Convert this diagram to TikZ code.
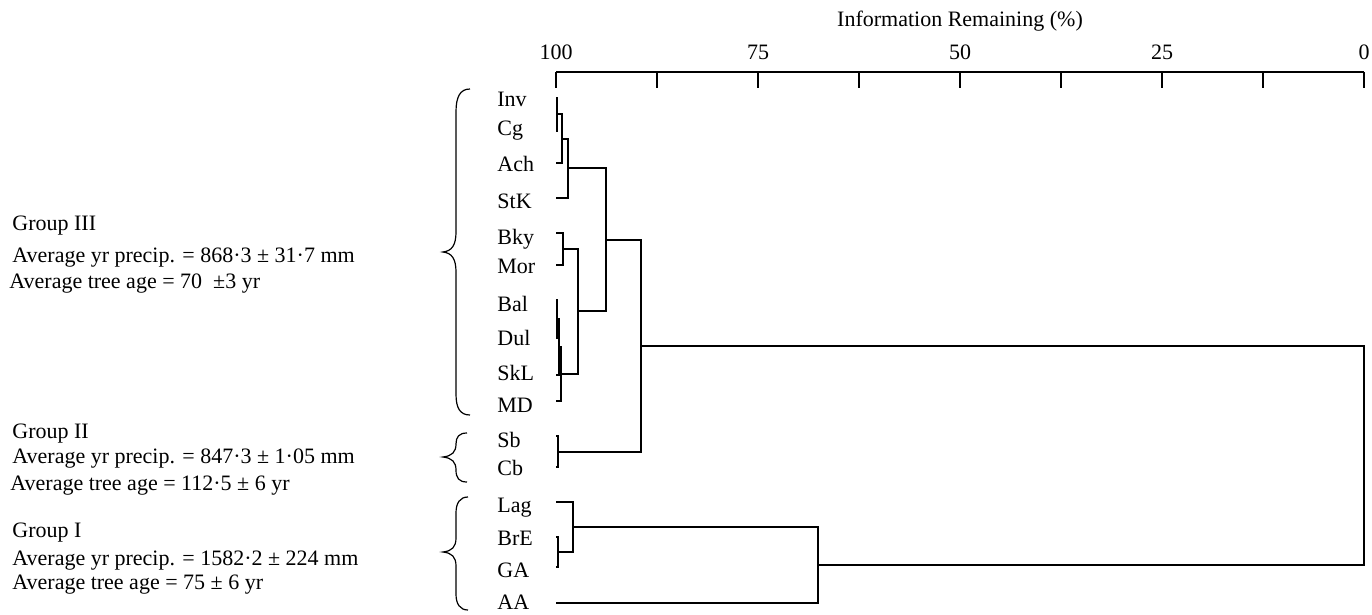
\documentclass[tikz,border=0pt]{standalone}
\usepackage{fontspec}
\setmainfont{Liberation Serif}
\usetikzlibrary{positioning}

\tikzset{
  leaf/.style={anchor=base west, inner sep=0pt, font=\fontsize{11}{13}\selectfont},
  note/.style={anchor=base west, inner sep=0pt, font=\fontsize{11}{13}\selectfont},
  ticklab/.style={anchor=base, inner sep=0pt, font=\fontsize{11}{13}\selectfont},
  tree/.style={line width=0.65pt},
  axisline/.style={line width=0.8pt},
  grpbrace/.style={line width=0.6pt}
}

\begin{document}
\begin{tikzpicture}[x=0.5pt, y=-0.5pt]
    \useasboundingbox (0,0) rectangle (1372,615);

    % Axis
    \draw[axisline] (556,72) coordinate (ax0) -- (1364,72) coordinate (ax1);
    \foreach \i in {0,...,8} {
        \draw[axisline] (556+101*\i,72) -- ++(0,16);
    }
    \foreach \i/\v in {0/100, 2/75, 4/50, 6/25, 8/0} {
        \node[ticklab] (t\v) at (556+101*\i,60) {\v};
    }
    \node[ticklab] (title) at (960,27) {Information Remaining (\%)};

    % Leaves: name / baseline / line height
    \foreach \n/\b/\y in {Inv/107/98, Cg/136/131, Ach/171/163, StK/208/198,
                          Bky/244/233, Mor/273/265, Bal/311/300, Dul/345/338,
                          SkL/380/375, MD/412/401, Sb/447/436, Cb/475/467,
                          Lag/512/502, BrE/545/537, GA/577/567, AA/609/603} {
        \node[leaf] (l\n) at (497,\b) {\n};
        \coordinate (\n) at (556,\y);
    }

    % Junctions
    \coordinate (m1) at (557,114);
    \coordinate (m2) at (562,139);
    \coordinate (m3) at (568,168);
    \coordinate (m4) at (563,249);
    \coordinate (m5) at (557,319);
    \coordinate (m6) at (559,347);
    \coordinate (m7) at (561,374);
    \coordinate (m8) at (578,311);
    \coordinate (m9) at (606,240);
    \coordinate (m10) at (558,452);
    \coordinate (m11) at (641,346);
    \coordinate (m12) at (558,552);
    \coordinate (m13) at (573,527);
    \coordinate (m14) at (818,565);
    \coordinate (m15) at (1364,455);

    % Dendrogram brackets
    \foreach \a/\m/\b in {Inv/m1/Cg, m1/m2/Ach, m2/m3/StK, Bky/m4/Mor,
                          Bal/m5/Dul, m5/m6/SkL, m6/m7/MD, m4/m8/m7,
                          m3/m9/m8, Sb/m10/Cb, m9/m11/m10, BrE/m12/GA,
                          Lag/m13/m12, m13/m14/AA, m11/m15/m14} {
        \draw[tree] (\a) -| (\m) |- (\b);
    }

    % Group braces
    \draw[grpbrace] (470,89) .. controls (460,89) and (456,97) .. (456,112)
        -- (456,232) .. controls (456,245) and (452,251) .. (443,252)
        .. controls (452,253) and (456,259) .. (456,272)
        -- (456,394) .. controls (456,408) and (460,415) .. (470,415);
    \draw[grpbrace] (467,433) .. controls (459,433) and (456,437) .. (456,444)
        .. controls (456,452) and (452,456) .. (443,457)
        .. controls (452,458) and (456,462) .. (456,470)
        .. controls (456,478) and (459,482) .. (467,482);
    \draw[grpbrace] (468,497) .. controls (460,497) and (456,503) .. (456,513)
        -- (456,538) .. controls (456,547) and (452,551) .. (443,552)
        .. controls (452,553) and (456,557) .. (456,566)
        -- (456,594) .. controls (456,604) and (460,610) .. (468,610);

    % Group notes
    \node[note] (g3) at (12,230) {Group III};
    \node[note] (g3p) at (12,263) {Average yr precip. = 868·3 ± 31·7 mm};
    \node[note] (g3a) at (9,288) {Average tree age = 70 \ ±3 yr};
    \node[note] (g2) at (12,438) {Group II};
    \node[note] (g2p) at (12,463) {Average yr precip. = 847·3 ± 1·05 mm};
    \node[note] (g2a) at (10,490) {Average tree age = 112·5 ± 6 yr};
    \node[note] (g1) at (12,537) {Group I};
    \node[note] (g1p) at (12,565) {Average yr precip. = 1582·2 ± 224 mm};
    \node[note] (g1a) at (12,589) {Average tree age = 75 ± 6 yr};
\end{tikzpicture}
\end{document}
